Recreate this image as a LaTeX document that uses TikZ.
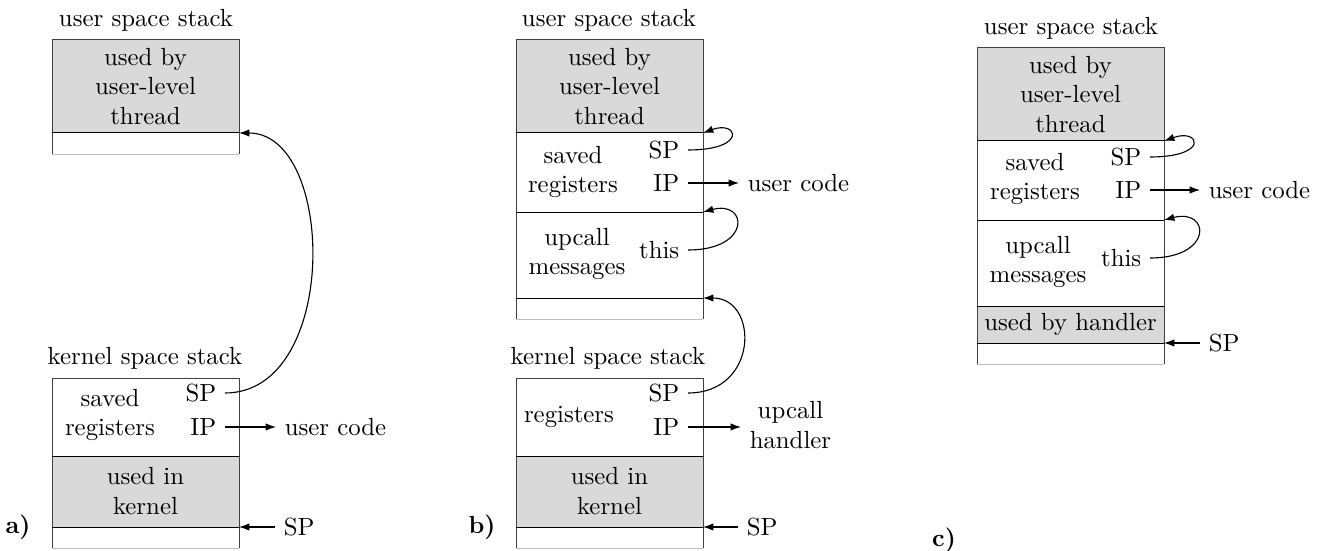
\documentclass[tikz,border=0pt]{standalone}
\usetikzlibrary{arrows.meta}
\begin{document}
\begin{tikzpicture}[x=0.4032pt,y=-0.4032pt,
  gfill/.style={fill=black!15},
  side/.style={draw=black!75},
  bot/.style={draw=black!25},
  divl/.style={draw=black},
  lbl/.style={anchor=east},
  txt/.style={align=center},
  ptr/.style={-{Latex[length=4.2pt,width=3pt]},line width=0.45pt},
  curv/.style={-{Latex[length=4.2pt,width=3pt]},line width=0.45pt},
  tag/.style={font=\bfseries}]
\useasboundingbox (0,0) rectangle (1328,551);

% ================= panel a =================
\node (aUT) at (146,20) {user space stack};
\fill[gfill] (52,40) rectangle (239,133);
\draw[side] (52,154) -- (52,40) -- (239,40) -- (239,154);
\draw[bot] (52,154) -- (239,154);
\draw[divl] (52,133) -- (239,133);
\coordinate (aUdiv) at (239,133);
\node[txt] (aUused) at (145.5,86.5) {used by\\user-level\\thread};

\node (aKT) at (145,358) {kernel space stack};
\fill[gfill] (52,456) rectangle (239,527);
\draw[side] (52,548) -- (52,378) -- (239,378) -- (239,548);
\draw[bot] (52,548) -- (239,548);
\draw[divl] (52,456) -- (239,456);
\draw[divl] (52,527) -- (239,527);
\coordinate (aKbot) at (239,527);
\node[txt] (aKsaved) at (110,415) {saved\\registers};
\node[lbl] (aKSP) at (225,393) {SP};
\node[lbl] (aKIP) at (225,427) {IP};
\node[anchor=west] (aUC) at (276,427) {user code};
\node[txt] (aKused) at (145.5,491) {used in\\kernel};
\node[anchor=west] (aSP) at (275,527) {SP};
\node[tag] (aTag) at (18,527) {a)};

\draw[curv] (aKSP.east) .. controls (340,393) and (336,133) .. (aUdiv);
\draw[ptr] (aKIP.east) -- (aUC.west);
\draw[ptr] (aSP.west) -- (aKbot);

% ================= panel b =================
\node (bUT) at (609,20) {user space stack};
\fill[gfill] (516,40) rectangle (703,133);
\draw[side] (516,319) -- (516,40) -- (703,40) -- (703,319);
\draw[bot] (516,319) -- (703,319);
\draw[divl] (516,133) -- (703,133);
\draw[divl] (516,212) -- (703,212);
\draw[divl] (516,298) -- (703,298);
\coordinate (bUdiv1) at (703,133);
\coordinate (bUdiv2) at (703,212);
\coordinate (bUdiv3) at (703,298);
\node[txt] (bUused) at (609.5,86.5) {used by\\user-level\\thread};
\node[txt] (bUsaved) at (573,172) {saved\\registers};
\node[lbl] (bUSP) at (688,150) {SP};
\node[lbl] (bUIP) at (688,183) {IP};
\node[anchor=west] (bUC) at (739,183) {user code};
\node[txt] (bUmsg) at (577,254) {upcall\\messages};
\node[lbl] (bUthis) at (688,250) {this};

\draw[curv] (bUSP.east) .. controls (748,150) and (738,120) .. (bUdiv1);
\draw[ptr] (bUIP.east) -- (bUC.west);
\draw[curv] (bUthis.east) .. controls (752,250) and (748,200) .. (bUdiv2);

\node (bKT) at (608,358) {kernel space stack};
\fill[gfill] (516,456) rectangle (703,527);
\draw[side] (516,548) -- (516,378) -- (703,378) -- (703,548);
\draw[bot] (516,548) -- (703,548);
\draw[divl] (516,456) -- (703,456);
\draw[divl] (516,527) -- (703,527);
\coordinate (bKbot) at (703,527);
\node (bKreg) at (569,417) {registers};
\node[lbl] (bKSP) at (688,393) {SP};
\node[lbl] (bKIP) at (688,427) {IP};
\node[txt,anchor=west] (bUH) at (741,425) {upcall\\handler};
\node[txt] (bKused) at (609.5,491) {used in\\kernel};
\node[anchor=west] (bSP) at (738,527) {SP};
\node[tag] (bTag) at (482,527) {b)};

\draw[curv] (bKSP.east) .. controls (759,393) and (759,298) .. (bUdiv3);
\draw[ptr] (bKIP.east) -- (bKIP.east -| bUH.west);
\draw[ptr] (bSP.west) -- (bKbot);

% ================= panel c =================
\node (cUT) at (1071,28) {user space stack};
\fill[gfill] (977,48) rectangle (1164,141);
\fill[gfill] (977,306) rectangle (1164,343);
\draw[side] (977,364) -- (977,48) -- (1164,48) -- (1164,364);
\draw[bot] (977,364) -- (1164,364);
\draw[divl] (977,141) -- (1164,141);
\draw[divl] (977,220) -- (1164,220);
\draw[divl] (977,306) -- (1164,306);
\draw[divl] (977,343) -- (1164,343);
\coordinate (cdiv1) at (1164,141);
\coordinate (cdiv2) at (1164,220);
\coordinate (cdiv4) at (1164,343);
\node[txt] (cused) at (1070.5,94.5) {used by\\user-level\\thread};
\node[txt] (csaved) at (1035,179) {saved\\registers};
\node[lbl] (cSP) at (1150,157) {SP};
\node[lbl] (cIP) at (1150,190) {IP};
\node[anchor=west] (cUC) at (1200,190) {user code};
\node[txt] (cmsg) at (1038,262) {upcall\\messages};
\node[lbl] (cthis) at (1150,258) {this};
\node (chand) at (1070.5,324.5) {used by handler};
\node[anchor=west] (cSPb) at (1200,343) {SP};
\node[tag] (cTag) at (944,540) {c)};

\draw[curv] (cSP.east) .. controls (1210,157) and (1200,128) .. (cdiv1);
\draw[ptr] (cIP.east) -- (cUC.west);
\draw[curv] (cthis.east) .. controls (1214,258) and (1210,208) .. (cdiv2);
\draw[ptr] (cSPb.west) -- (cdiv4);
\end{tikzpicture}
\end{document}
